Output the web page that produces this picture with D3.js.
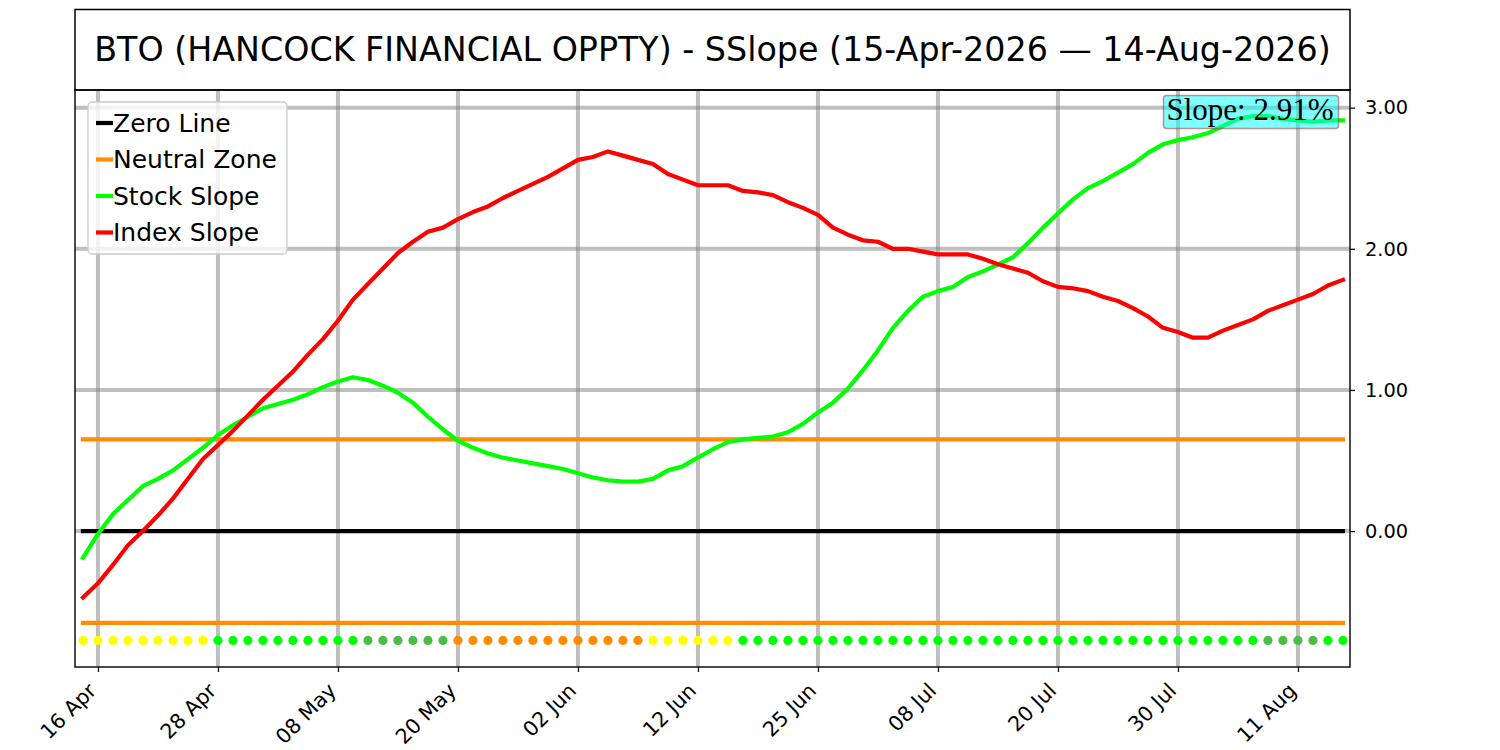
<!DOCTYPE html>
<html>
<head>
<meta charset="utf-8">
<script src="https://cdn.jsdelivr.net/npm/d3@7"></script>
<style>
	body { margin: 0; background: #ffffff; }
	svg { display: block; }
</style>
</head>
<body>
<div id="chart"></div>
<script>
// trading days, 15-Apr-2026 .. 14-Aug-2026
var dates = [
	"2026-04-15","2026-04-16","2026-04-17","2026-04-20","2026-04-21","2026-04-22","2026-04-23","2026-04-24","2026-04-27","2026-04-28","2026-04-29","2026-04-30",
	"2026-05-01","2026-05-04","2026-05-05","2026-05-06","2026-05-07","2026-05-08","2026-05-11","2026-05-12","2026-05-13","2026-05-14","2026-05-15","2026-05-18","2026-05-19","2026-05-20","2026-05-21","2026-05-22","2026-05-26","2026-05-27","2026-05-28","2026-05-29",
	"2026-06-01","2026-06-02","2026-06-03","2026-06-04","2026-06-05","2026-06-08","2026-06-09","2026-06-10","2026-06-11","2026-06-12","2026-06-15","2026-06-16","2026-06-17","2026-06-18","2026-06-22","2026-06-23","2026-06-24","2026-06-25","2026-06-26","2026-06-29","2026-06-30",
	"2026-07-01","2026-07-02","2026-07-06","2026-07-07","2026-07-08","2026-07-09","2026-07-10","2026-07-13","2026-07-14","2026-07-15","2026-07-16","2026-07-17","2026-07-20","2026-07-21","2026-07-22","2026-07-23","2026-07-24","2026-07-27","2026-07-28","2026-07-29","2026-07-30","2026-07-31",
	"2026-08-03","2026-08-04","2026-08-05","2026-08-06","2026-08-07","2026-08-10","2026-08-11","2026-08-12","2026-08-13","2026-08-14"
];

var stockSlope = [
	-0.19,-0.02,0.12,0.22,0.32,0.37,0.43,0.51,0.59,0.68,0.75,0.81,0.87,0.90,0.93,0.97,1.02,1.06,1.09,1.07,
	1.03,0.98,0.91,0.81,0.72,0.64,0.59,0.55,0.52,0.50,0.48,0.46,0.44,0.41,0.38,0.36,0.35,0.35,0.37,0.43,
	0.46,0.52,0.58,0.63,0.65,0.66,0.67,0.70,0.76,0.84,0.91,1.01,1.14,1.28,1.44,1.56,1.66,1.70,1.73,1.80,
	1.84,1.89,1.94,2.04,2.15,2.25,2.35,2.43,2.48,2.54,2.60,2.68,2.74,2.77,2.79,2.82,2.87,2.92,2.94,2.94,
	2.92,2.91,2.90,2.91,2.91
];

var indexSlope = [
	-0.47,-0.37,-0.24,-0.10,0.00,0.11,0.23,0.37,0.51,0.61,0.71,0.82,0.93,1.03,1.13,1.25,1.36,1.49,1.64,1.75,
	1.86,1.97,2.05,2.12,2.15,2.21,2.26,2.30,2.36,2.41,2.46,2.51,2.57,2.63,2.65,2.69,2.66,2.63,2.60,2.53,
	2.49,2.45,2.45,2.45,2.41,2.40,2.38,2.33,2.29,2.24,2.15,2.10,2.06,2.05,2.00,2.00,1.98,1.96,1.96,1.96,
	1.93,1.89,1.86,1.83,1.77,1.73,1.72,1.70,1.66,1.63,1.58,1.52,1.44,1.41,1.37,1.37,1.42,1.46,1.50,1.56,
	1.60,1.64,1.68,1.74,1.78
];

// status dots along the bottom: Y yellow, G green, g dark green, O orange
var statusCodes = [
	"Y","Y","Y","Y","Y","Y","Y","Y","Y","G","G","G","G","G","G","G","G","G","G","g",
	"g","g","g","g","g","O","O","O","O","O","O","O","O","O","O","O","O","O","Y","Y",
	"Y","Y","Y","Y","G","G","G","G","G","G","G","G","G","G","G","G","G","G","G","G",
	"G","G","G","G","G","G","G","G","G","G","G","G","G","G","G","G","G","G","G","g",
	"g","g","g","G","G"
];

var statusColors = {Y: "#ffff00", G: "#00ff00", g: "#4cbb47", O: "#ff8c00"};

var zeroLevel = 0;
var neutralLevel = 0.65;
var dotLevel = -0.775;
var yTicks = [0, 1, 2, 3];
var xTickIdx = [1, 9, 17, 25, 33, 41, 49, 57, 65, 73, 81];
var lastSlope = 2.91;

var legendItems = [
	{label: "Zero Line", color: "#000000"},
	{label: "Neutral Zone", color: "#ff8c00"},
	{label: "Stock Slope", color: "#00ff00"},
	{label: "Index Slope", color: "#ff0000"}
];

var title = "BTO (HANCOCK FINANCIAL OPPTY) - SSlope (15-Apr-2026 \u2014 14-Aug-2026)";

var W = 1500, H = 750;
var plot = {left: 75, right: 1350, top: 90, bottom: 667};

var svg = d3.select("#chart")
	.append("svg")
	.attr("width", W)
	.attr("height", H);

svg.append("rect")
	.attr("width", W)
	.attr("height", H)
	.attr("fill", "#ffffff");

var x = d3.scaleLinear()
	.domain([-0.53, 84.47])
	.range([plot.left, plot.right]);

var y = d3.scaleLinear()
	.domain([-0.963, 3.125])
	.range([plot.bottom, plot.top]);

var parse = d3.timeParse("%Y-%m-%d");
var fmt = d3.timeFormat("%d %b");

//Grid
var grid = svg.append("g").attr("class", "grid");
grid.selectAll(".vgrid")
	.data(xTickIdx)
	.enter().append("line")
	.attr("x1", function(d){ return x(d); })
	.attr("x2", function(d){ return x(d); })
	.attr("y1", plot.top)
	.attr("y2", plot.bottom)
	.attr("stroke", "#808080")
	.attr("stroke-opacity", 0.5)
	.attr("stroke-width", 4);
grid.selectAll(".hgrid")
	.data(yTicks)
	.enter().append("line")
	.attr("x1", plot.left)
	.attr("x2", plot.right)
	.attr("y1", function(d){ return y(d); })
	.attr("y2", function(d){ return y(d); })
	.attr("stroke", "#808080")
	.attr("stroke-opacity", 0.5)
	.attr("stroke-width", 4);

//Reference lines
var refs = [
	{v: zeroLevel, c: "#000000"},
	{v: neutralLevel, c: "#ff8c00"},
	{v: -neutralLevel, c: "#ff8c00"}
];
svg.append("g").selectAll("line")
	.data(refs)
	.enter().append("line")
	.attr("x1", x(0))
	.attr("x2", x(dates.length - 1))
	.attr("y1", function(d){ return y(d.v); })
	.attr("y2", function(d){ return y(d.v); })
	.attr("stroke", function(d){ return d.c; })
	.attr("stroke-width", 4.2)
	.attr("stroke-linecap", "square");

//Slope lines
var line = d3.line()
	.x(function(d, i){ return x(i); })
	.y(function(d){ return y(d); });

svg.append("path")
	.attr("d", line(stockSlope))
	.attr("fill", "none")
	.attr("stroke", "#00ff00")
	.attr("stroke-width", 4.2)
	.attr("stroke-linejoin", "round")
	.attr("stroke-linecap", "square");

svg.append("path")
	.attr("d", line(indexSlope))
	.attr("fill", "none")
	.attr("stroke", "#ff0000")
	.attr("stroke-width", 4.2)
	.attr("stroke-linejoin", "round")
	.attr("stroke-linecap", "square");

//Status dots
svg.append("g").selectAll("circle")
	.data(statusCodes)
	.enter().append("circle")
	.attr("cx", function(d, i){ return x(i); })
	.attr("cy", y(dotLevel))
	.attr("r", 4.6)
	.attr("fill", function(d){ return statusColors[d]; });

//Frame
svg.append("rect")
	.attr("x", plot.left)
	.attr("y", plot.top)
	.attr("width", plot.right - plot.left)
	.attr("height", plot.bottom - plot.top)
	.attr("fill", "none")
	.attr("stroke", "#111111")
	.attr("stroke-width", 1.5);

//Title box
svg.append("rect")
	.attr("x", plot.left)
	.attr("y", 9.5)
	.attr("width", plot.right - plot.left)
	.attr("height", plot.top - 9.5)
	.attr("fill", "none")
	.attr("stroke", "#000000")
	.attr("stroke-width", 1.5);
svg.append("text")
	.attr("x", (plot.left + plot.right) / 2)
	.attr("y", 61)
	.attr("text-anchor", "middle")
	.attr("font-family", "DejaVu Sans")
	.attr("font-size", "33.3px")
	.attr("fill", "#000000")
	.text(title);

//X axis
var xAxis = d3.axisBottom(x)
	.tickValues(xTickIdx)
	.tickSize(5)
	.tickFormat(function(i){ return fmt(parse(dates[i])); });
var gx = svg.append("g")
	.attr("transform", "translate(0," + plot.bottom + ")")
	.call(xAxis);
gx.select(".domain").remove();
gx.selectAll(".tick line").attr("stroke", "#111111").attr("stroke-width", 1.3);
gx.selectAll(".tick text")
	.attr("font-family", "DejaVu Sans")
	.attr("font-size", "20.6px")
	.attr("fill", "#000000")
	.attr("text-anchor", "end")
	.attr("y", 0)
	.attr("dy", 0)
	.attr("transform", "translate(-1,25) rotate(-45)");

//Y axis (right)
var yAxis = d3.axisRight(y)
	.tickValues(yTicks)
	.tickSize(5)
	.tickPadding(10)
	.tickFormat(d3.format(".2f"));
var gy = svg.append("g")
	.attr("transform", "translate(" + plot.right + ",0)")
	.call(yAxis);
gy.select(".domain").remove();
gy.selectAll(".tick line").attr("stroke", "#111111").attr("stroke-width", 1.3);
gy.selectAll(".tick text")
	.attr("font-family", "DejaVu Sans")
	.attr("font-size", "19.4px")
	.attr("fill", "#000000");

//Legend
var lg = svg.append("g").attr("class", "legend");
lg.append("rect")
	.attr("x", 88)
	.attr("y", 102)
	.attr("width", 199)
	.attr("height", 152)
	.attr("rx", 4)
	.attr("ry", 4)
	.attr("fill", "#ffffff")
	.attr("fill-opacity", 0.8)
	.attr("stroke", "#cccccc")
	.attr("stroke-width", 1.3);
var items = lg.selectAll(".item")
	.data(legendItems)
	.enter().append("g")
	.attr("transform", function(d, i){ return "translate(96," + (123 + i * 36.5) + ")"; });
items.append("line")
	.attr("x1", 0)
	.attr("x2", 17)
	.attr("stroke", function(d){ return d.color; })
	.attr("stroke-width", 4.2);
items.append("text")
	.attr("x", 17)
	.attr("y", 8.8)
	.attr("font-family", "DejaVu Sans")
	.attr("font-size", "25px")
	.attr("fill", "#000000")
	.text(function(d){ return d.label; });

//Slope annotation
var ann = svg.append("g");
ann.append("rect")
	.attr("x", 1163.5)
	.attr("y", 95.5)
	.attr("width", 175)
	.attr("height", 33)
	.attr("rx", 3)
	.attr("ry", 3)
	.attr("fill", "#00ffff")
	.attr("fill-opacity", 0.5)
	.attr("stroke", "#a52a2a")
	.attr("stroke-opacity", 0.5)
	.attr("stroke-width", 1.5);
ann.append("text")
	.attr("x", 1333.5)
	.attr("y", 119.5)
	.attr("text-anchor", "end")
	.attr("font-family", "Liberation Serif")
	.attr("font-size", "31px")
	.attr("fill", "#000000")
	.text("Slope: " + lastSlope.toFixed(2) + "%");
</script>
</body>
</html>
